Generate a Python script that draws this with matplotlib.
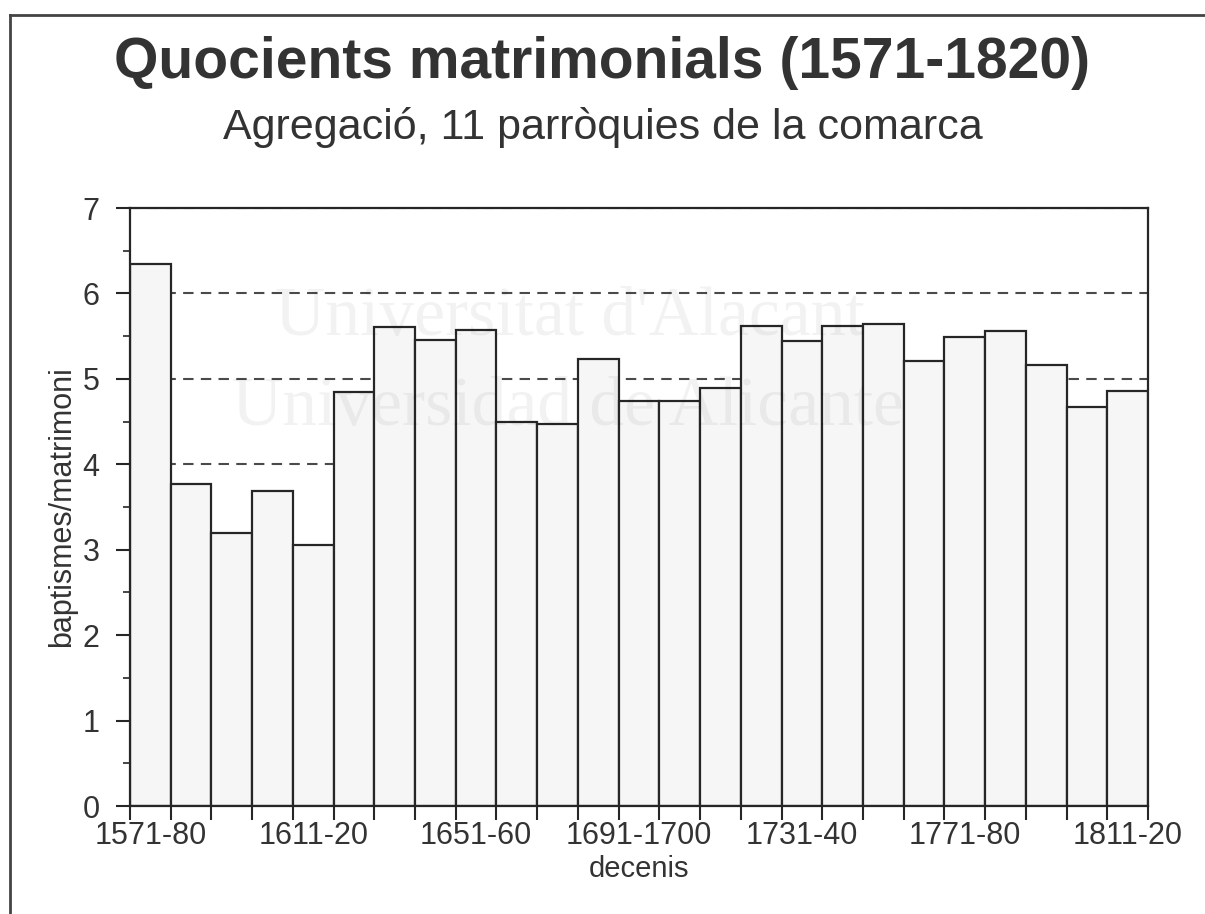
#!/usr/bin/env python3
"""Quocients matrimonials (1571-1820), agregació de 11 parròquies."""
import matplotlib

matplotlib.use("Agg")
import matplotlib.pyplot as plt
from matplotlib.lines import Line2D

plt.rcParams["font.family"] = ["Liberation Sans", "DejaVu Sans"]

DECADES = [
    "1571-80", "1581-90", "1591-1600", "1601-10", "1611-20", "1621-30", "1631-40",
    "1641-50", "1651-60", "1661-70", "1671-80", "1681-90", "1691-1700", "1701-10",
    "1711-20", "1721-30", "1731-40", "1741-50", "1751-60", "1761-70", "1771-80",
    "1781-90", "1791-1800", "1801-10", "1811-20",
]
QUOTIENTS = [
    6.35, 3.77, 3.20, 3.69, 3.05, 4.85, 5.61, 5.46, 5.57, 4.50, 4.47, 5.23, 4.74,
    4.74, 4.89, 5.62, 5.44, 5.62, 5.64, 5.21, 5.49, 5.56, 5.16, 4.67, 4.86,
]
LABEL_EVERY = 4

INK = "#262626"
TXT = "#333333"

fig = plt.figure(figsize=(12.05, 9.14), dpi=100)
ax = fig.add_axes([130 / 1205, 1 - 806 / 914, 1018 / 1205, 598 / 914])

xs = list(range(len(QUOTIENTS)))
ax.bar(xs, QUOTIENTS, width=1.0, color="#f6f6f6", edgecolor=INK, linewidth=1.6, zorder=2)

ax.set_xlim(-0.5, len(QUOTIENTS) - 0.5)
ax.set_ylim(0, 7)

# x: ticks at bar edges, labels under every 4th bar
edges = [x - 0.5 for x in xs] + [xs[-1] + 0.5]
ax.set_xticks(edges)
ax.set_xticklabels([])
ax.set_xticks(xs[::LABEL_EVERY], minor=True)
ax.set_xticklabels(DECADES[::LABEL_EVERY], minor=True)
ax.tick_params(axis="x", which="major", length=10, width=1.5, color=INK)
ax.tick_params(axis="x", which="minor", length=0, pad=11, labelsize=22, labelcolor=TXT)

ax.set_yticks(range(0, 8))
ax.set_yticks([i + 0.5 for i in range(7)], minor=True)
ax.tick_params(axis="y", which="major", length=10, width=1.5, color=INK, pad=12,
               labelsize=22, labelcolor=TXT)
ax.tick_params(axis="y", which="minor", length=5, width=1.2, color=INK)

ax.yaxis.grid(True, which="major", linestyle=(0, (5, 3.5)), color="#4a4a4a", linewidth=1.5)
ax.set_axisbelow(True)

for s in ax.spines.values():
    s.set_linewidth(1.6)
    s.set_color(INK)

ax.set_ylabel("baptismes/matrimoni", fontsize=22, color=TXT, labelpad=4)
ax.set_xlabel("decenis", fontsize=21, color=TXT, labelpad=3)

fig.text(0.5, 1 - 63 / 914, "Quocients matrimonials (1571-1820)", ha="center", va="center",
         fontsize=41, fontweight="bold", color=TXT)
fig.text(0.5, 1 - 128 / 914, "Agregació, 11 parròquies de la comarca", ha="center",
         va="center", fontsize=31, color=TXT)

# faint watermark of the scan
for txt, x, y in [("Universitat d'Alacant", 570, 318), ("Universidad de Alicante", 568, 408)]:
    fig.text(x / 1205, 1 - y / 914, txt, ha="center", va="center", fontsize=50,
             family=["Liberation Serif", "DejaVu Serif"], color="black", alpha=0.05, zorder=5)

# page frame (left and top edges)
fig.add_artist(Line2D([10 / 1205, 10 / 1205], [0, 1 - 15 / 914], transform=fig.transFigure,
                      color="#444444", linewidth=2))
fig.add_artist(Line2D([10 / 1205, 1], [1 - 15 / 914, 1 - 15 / 914], transform=fig.transFigure,
                      color="#444444", linewidth=2))

fig.savefig("out.png", dpi=100)
